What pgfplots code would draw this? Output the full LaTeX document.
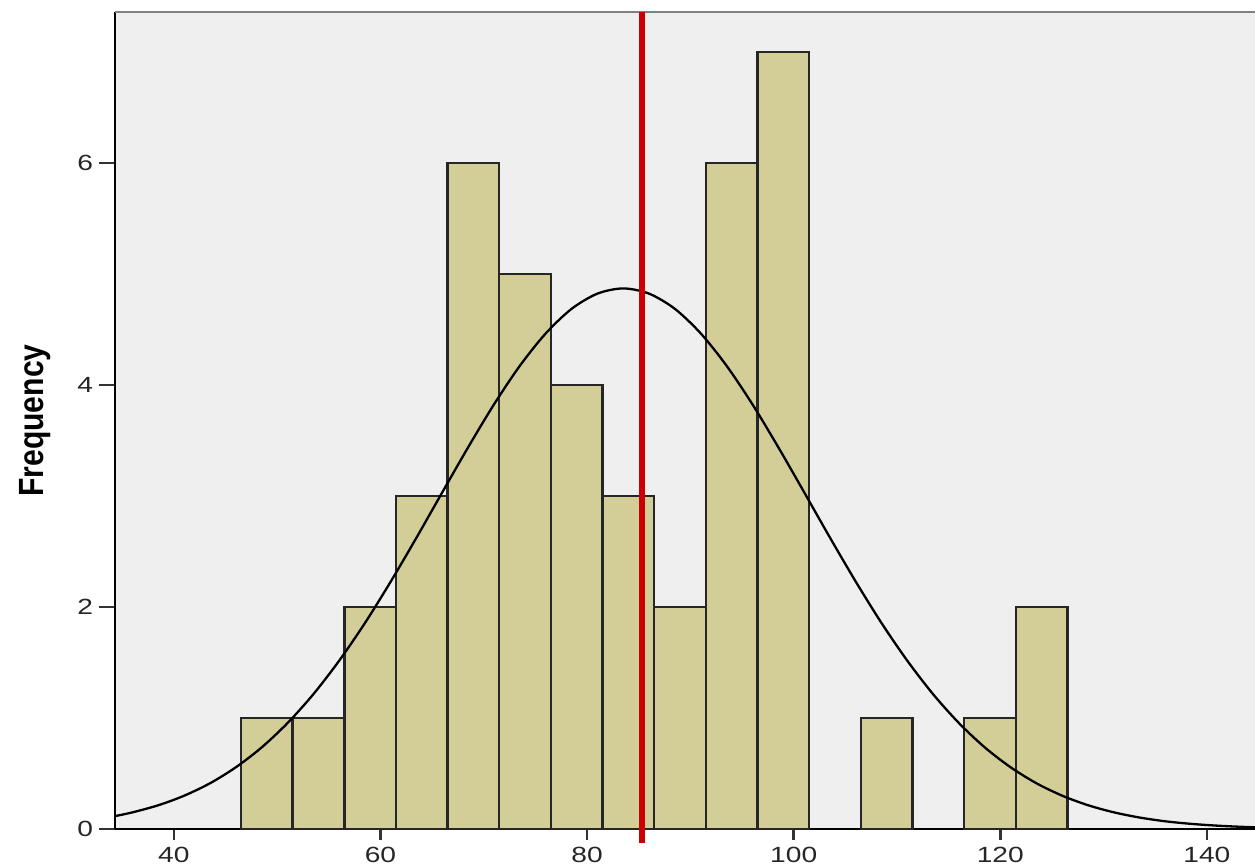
\documentclass[border=0pt]{standalone}
\usepackage{fontspec}
\setmainfont{Liberation Sans}
\newfontfamily\tickfont[FakeStretch=1.28]{Liberation Sans}
\newfontfamily\labfont[FakeStretch=0.86]{Liberation Sans}
\usepackage{pgfplots}
\pgfplotsset{compat=1.18}
\definecolor{bgc}{RGB}{239,239,239}
\definecolor{barc}{RGB}{211,206,152}
\definecolor{redc}{RGB}{204,0,0}
\begin{document}
\begin{tikzpicture}
\path[use as bounding box] (-57.5pt,-18.5pt) rectangle (570pt,414.5pt);
\begin{axis}[
  at={(0,0)}, anchor=south west,
  x=5.165pt, y=55.5pt,
  xmin=34.3, xmax=146, ymin=0, ymax=7.36,
  axis background/.style={fill=bgc},
  axis x line*=bottom, axis y line*=left,
  axis line style={black, line width=1.1pt, -},
  xtick={40,60,...,140}, ytick={0,2,4,6},
  tick align=outside,
  major tick length=8pt,
  tick style={black!80, line width=1.3pt},
  xtick style={/pgfplots/major tick length=5.5pt},
  /pgf/number format/assume math mode=true,
  ticklabel style={font=\tickfont\fontsize{11}{12}\selectfont, text=black!85},
  yticklabel style={xshift=0.5pt},
  xticklabel style={yshift=2.5pt},
  ylabel={Frequency},
  ylabel style={at={(axis description cs:-0.0693,0.5)}, anchor=center, font=\labfont\bfseries\fontsize{17.5}{19}\selectfont},
  clip=false,
]
\draw[gray, line width=1.2pt] (rel axis cs:0,1) -- (rel axis cs:1.1,1);
\addplot[ybar, bar width=5, fill=barc, draw=black!85, line width=1.2pt] coordinates {
  (49,1) (54,1) (59,2) (64,3) (69,6) (74,5) (79,4) (84,3) (89,2) (94,6) (99,7)
  (109,1) (119,1) (124,2)
};
\addplot[black, line width=1.15pt, smooth] coordinates {
  (34.3,0.116) (36,0.150) (38.5,0.214) (41,0.300) (43.5,0.412) (46,0.556)
  (48.5,0.735) (51,0.954) (53.5,1.214) (56,1.516) (58.5,1.856) (61,2.230)
  (63.5,2.627) (66,3.036) (68.5,3.441) (71,3.827) (73.5,4.174) (76,4.465)
  (78.5,4.686) (81,4.823) (83.5,4.870) (86,4.823) (88.5,4.686) (91,4.465)
  (93.5,4.174) (96,3.827) (98.5,3.441) (101,3.036) (103.5,2.627) (106,2.230)
  (108.5,1.856) (111,1.516) (113.5,1.214) (116,0.954) (118.5,0.735) (121,0.556)
  (123.5,0.412) (126,0.300) (128.5,0.214) (131,0.150) (133.5,0.103) (136,0.069)
  (138.5,0.046) (141,0.030) (143.5,0.019) (146,0.012)
};
\addplot[redc, line width=3pt] coordinates {(85.3,-0.13) (85.3,7.36)};
\end{axis}
\end{tikzpicture}
\end{document}
